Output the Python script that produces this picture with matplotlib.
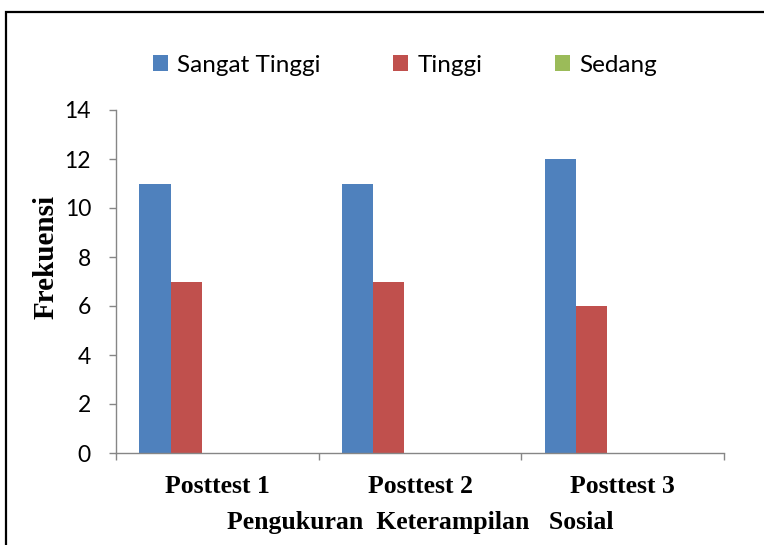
import matplotlib
matplotlib.use("Agg")
import matplotlib.pyplot as plt
from matplotlib.patches import Rectangle
import numpy as np

categories = ["Posttest 1", "Posttest 2", "Posttest 3"]
series_names = ["Sangat Tinggi", "Tinggi", "Sedang"]
sangat_tinggi = [11, 11, 12]
tinggi = [7, 7, 6]
sedang = [0, 0, 0]
y_ticks = [0, 2, 4, 6, 8, 10, 12, 14]
colors = ["#4F81BD", "#C0504D", "#9BBB59"]

fig = plt.figure(figsize=(7.64, 5.45), dpi=100)
ax = fig.add_axes([116/764, 1-453/545, (724-116)/764, (453-110)/545])

x = np.arange(len(categories))
w = 1/6.5
values = [sangat_tinggi, tinggi, sedang]
handles = []
for k, (vals, name, c) in enumerate(zip(values, series_names, colors)):
    off = -0.5 + (1.25 + k) * w
    b = ax.bar(x + off, vals, width=w, color=c, label=name, linewidth=0)
    handles.append(b)

ax.set_xlim(-0.5, 2.5)
ax.set_ylim(0, 14)
ax.set_yticks(y_ticks)
ax.set_xticks([-0.5, 0.5, 1.5, 2.5])
ax.set_xticklabels([])
ax.set_xticks(x, minor=True)
ax.set_xticklabels(categories, minor=True, fontfamily="Liberation Serif",
                   fontweight="bold", fontsize=18.5)
ax.tick_params(axis="x", which="minor", length=0, pad=16)
ax.tick_params(axis="x", which="major", length=5, width=1, color="#868686", direction="out")
ax.tick_params(axis="y", length=5, width=1, color="#868686", direction="out", pad=13,
               labelsize=16.5)
for lbl in ax.get_yticklabels():
    lbl.set_fontfamily("Lato")
for s in ["top", "right"]:
    ax.spines[s].set_visible(False)
for s in ["left", "bottom"]:
    ax.spines[s].set_color("#868686")
    ax.spines[s].set_linewidth(1)

ax.set_ylabel("Frekuensi", fontfamily="Liberation Serif", fontweight="bold", fontsize=21)
ax.yaxis.set_label_coords((60-116)/(724-116), (453-257)/(453-110))
ax.set_xlabel("Pengukuran  Keterampilan   Sosial", fontfamily="Liberation Serif",
              fontweight="bold", fontsize=18.5)
ax.xaxis.set_label_coords(0.5, -(511-453)/(453-110))

leg = fig.legend(handles=handles, labels=series_names, loc="center",
                 bbox_to_anchor=(405/764, 1-65/545), ncol=3, frameon=False,
                 handlelength=0.6, handleheight=0.6, handletextpad=0.38,
                 columnspacing=3.0, prop={"family": "Lato", "size": 17.5})

fig.patches.append(Rectangle((6/764, -0.1), 1.2, 1-12/545+0.1, transform=fig.transFigure,
                             fill=False, edgecolor="black", linewidth=1.6))

fig.savefig("out.png", dpi=100)
